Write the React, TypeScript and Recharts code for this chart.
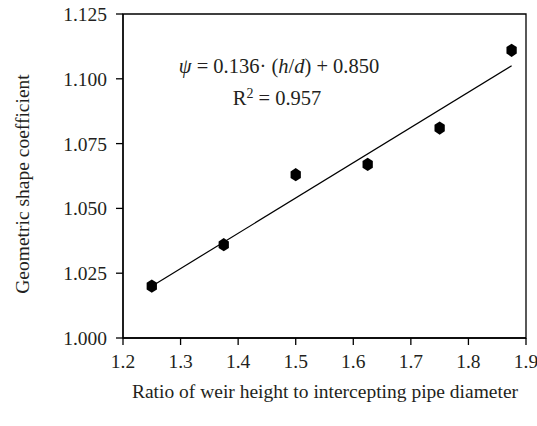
import React from "react"
import {
  ScatterChart,
  Scatter,
  XAxis,
  YAxis,
  ReferenceArea,
  Customized,
} from "recharts"

const ratios = [1.25, 1.375, 1.5, 1.625, 1.75, 1.875]
const coefficients = [1.02, 1.036, 1.063, 1.067, 1.081, 1.111]
const fitX = [1.25, 1.875]
const fitY = [1.02, 1.105]
const xTicks = [1.2, 1.3, 1.4, 1.5, 1.6, 1.7, 1.8, 1.9]
const yTicks = [1.0, 1.025, 1.05, 1.075, 1.1, 1.125]

const points = ratios.map((x, i) => ({ x, y: coefficients[i] }))
const fitLine = fitX.map((x, i) => ({ x, y: fitY[i] }))

const FONT = "'Liberation Serif', 'DejaVu Serif', serif"
const INK = "#231f20"

const Hexagon = (props: any) => {
  const { cx, cy } = props
  const r = 6.6
  const pts = [0, 1, 2, 3, 4, 5]
    .map((k) => {
      const a = (Math.PI / 3) * k - Math.PI / 2
      return `${cx + r * 0.9 * Math.cos(a)},${cy + r * Math.sin(a)}`
    })
    .join(" ")
  return <polygon points={pts} fill="#000" />
}

const Annotations = () => (
  <g fontFamily={FONT} fill={INK}>
    <text x={279} y={73} textAnchor="middle" fontSize={20.5}>
      <tspan fontStyle="italic">ψ</tspan>
      <tspan> = 0.136· (</tspan>
      <tspan fontStyle="italic">h</tspan>
      <tspan>/</tspan>
      <tspan fontStyle="italic">d</tspan>
      <tspan>) + 0.850</tspan>
    </text>
    <text x={277} y={105} textAnchor="middle" fontSize={20.5}>
      <tspan>R</tspan>
      <tspan dy={-7} fontSize={14}>2</tspan>
      <tspan dy={7}> = 0.957</tspan>
    </text>
    <text
      x={22}
      y={184}
      fontSize={19.5}
      textAnchor="middle"
      dominantBaseline="central"
      transform="rotate(-90 22 184)"
    >
      Geometric shape coefficient
    </text>
    <text x={325} y={398} textAnchor="middle" fontSize={19.5}>
      Ratio of weir height to intercepting pipe diameter
    </text>
  </g>
)

export default function App() {
  const tickStyle = { fill: INK, fontSize: 19.5, fontFamily: FONT }
  return (
    <div style={{ position: "absolute", left: 0, top: 0, background: "#fff" }}>
      <ScatterChart
        width={537}
        height={426}
        margin={{ top: 14, right: 11, bottom: 0, left: 0 }}
      >
        <XAxis
          type="number"
          dataKey="x"
          domain={[1.2, 1.9]}
          ticks={xTicks}
          tickFormatter={(v) => v.toFixed(1)}
          tick={tickStyle}
          tickSize={7}
          tickMargin={9}
          stroke="#000"
          strokeWidth={1.3}
          height={88}
          interval={0}
          allowDataOverflow
        />
        <YAxis
          type="number"
          dataKey="y"
          domain={[1.0, 1.125]}
          ticks={yTicks}
          tickFormatter={(v) => v.toFixed(3)}
          tick={tickStyle}
          tickSize={7}
          tickMargin={9}
          stroke="#000"
          strokeWidth={1.3}
          width={123}
          interval={0}
          allowDataOverflow
        />
        <ReferenceArea
          x1={1.2}
          x2={1.9}
          y1={1.0}
          y2={1.125}
          fill="none"
          stroke="#000"
          strokeWidth={1.3}
          fillOpacity={0}
        />
        <Scatter
          data={fitLine}
          line={{ stroke: "#000", strokeWidth: 1.2 }}
          shape={() => <g />}
          isAnimationActive={false}
        />
        <Scatter data={points} shape={Hexagon} isAnimationActive={false} />
        <Customized component={Annotations} />
      </ScatterChart>
    </div>
  )
}
